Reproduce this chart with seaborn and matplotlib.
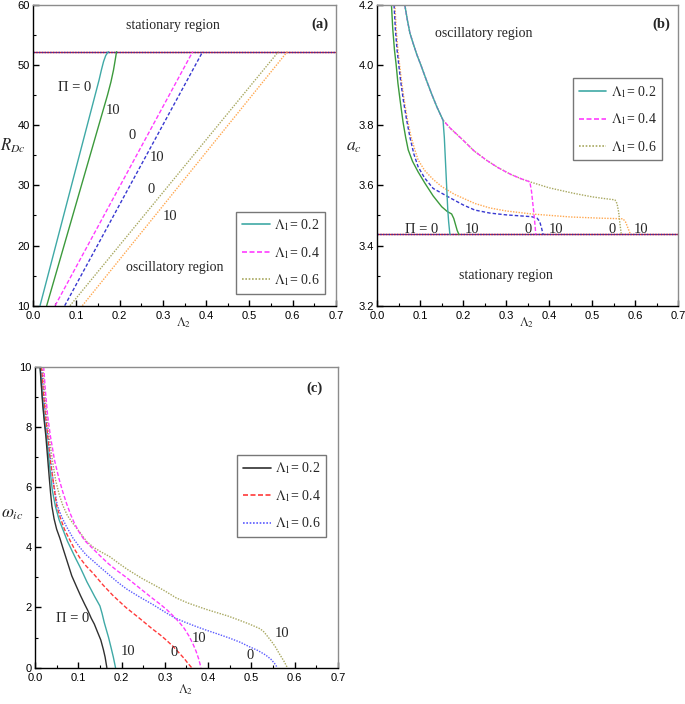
import numpy as np
import pandas as pd
import matplotlib
matplotlib.use("Agg")
import matplotlib.pyplot as plt
import seaborn as sns
from matplotlib.lines import Line2D
from matplotlib.ticker import MultipleLocator, FormatStrFormatter

# ---------------- data ----------------
# Panel (a): R_Dc vs Lambda_2
a_l02_p0_x = [0.0162, 0.1525, 0.158, 0.163, 0.168, 0.174]
a_l02_p0_y = [10.0, 47.5, 49.2, 50.6, 51.6, 52.24]
a_l02_p10_x = [0.0316, 0.172, 0.180, 0.186, 0.190, 0.193]
a_l02_p10_y = [10.0, 45.0, 47.2, 49.2, 50.9, 52.24]
a_l04_p0_x = [0.051, 0.369]
a_l04_p0_y = [10.0, 52.24]
a_l04_p10_x = [0.0732, 0.392]
a_l04_p10_y = [10.0, 52.24]
a_l06_p0_x = [0.0855, 0.567]
a_l06_p0_y = [10.0, 52.24]
a_l06_p10_x = [0.114, 0.5875]
a_l06_p10_y = [10.0, 52.24]
a_boundary = 52.24

# Panel (b): a_c vs Lambda_2
b_upper_x = [0.064, 0.070, 0.076, 0.084, 0.092, 0.1015, 0.113, 0.126, 0.139, 0.153]
b_upper_y = [4.2, 4.15, 4.106, 4.07, 4.035, 4.0, 3.955, 3.906, 3.86, 3.817]
b_l02_p0_x = b_upper_x + [0.156, 0.158, 0.160, 0.162, 0.164, 0.166, 0.169]
b_l02_p0_y = b_upper_y + [3.76, 3.70, 3.64, 3.58, 3.52, 3.48, 3.437]
b_l04_p0_x = b_upper_x + [0.170, 0.185, 0.200, 0.225, 0.254, 0.280, 0.310, 0.335, 0.355, 0.359, 0.362, 0.365, 0.367, 0.369]
b_l04_p0_y = b_upper_y + [3.79, 3.77, 3.75, 3.715, 3.684, 3.66, 3.637, 3.622, 3.612, 3.58, 3.54, 3.50, 3.47, 3.437]
b_l06_p0_x = b_upper_x + [0.170, 0.185, 0.200, 0.225, 0.254, 0.280, 0.310, 0.335, 0.355, 0.400, 0.456, 0.500, 0.530, 0.553, 0.558, 0.562, 0.565, 0.568]
b_l06_p0_y = b_upper_y + [3.79, 3.77, 3.75, 3.715, 3.684, 3.66, 3.637, 3.622, 3.612, 3.592, 3.574, 3.562, 3.556, 3.552, 3.54, 3.51, 3.47, 3.437]
b_l02_p10_x = [0.033, 0.036, 0.040, 0.044, 0.048, 0.053, 0.060, 0.066, 0.072, 0.082, 0.095, 0.111, 0.130, 0.150, 0.163, 0.173, 0.178, 0.182, 0.186, 0.190]
b_l02_p10_y = [4.2, 4.12, 4.05, 4.0, 3.94, 3.884, 3.81, 3.76, 3.718, 3.68, 3.645, 3.607, 3.565, 3.529, 3.513, 3.505, 3.49, 3.47, 3.45, 3.437]
b_l04_p10_x = [0.039, 0.042, 0.046, 0.050, 0.055, 0.061, 0.068, 0.076, 0.085, 0.095, 0.110, 0.130, 0.165, 0.200, 0.227, 0.262, 0.300, 0.359, 0.372, 0.378, 0.382, 0.386]
b_l04_p10_y = [4.2, 4.12, 4.05, 4.0, 3.94, 3.88, 3.82, 3.76, 3.705, 3.662, 3.625, 3.59, 3.562, 3.535, 3.518, 3.508, 3.502, 3.496, 3.491, 3.48, 3.46, 3.437]
b_l06_p10_x = [0.041, 0.044, 0.048, 0.052, 0.057, 0.063, 0.070, 0.078, 0.087, 0.095, 0.110, 0.130, 0.150, 0.180, 0.227, 0.262, 0.300, 0.359, 0.450, 0.520, 0.572, 0.578, 0.583, 0.587, 0.590]
b_l06_p10_y = [4.2, 4.12, 4.05, 4.0, 3.94, 3.88, 3.82, 3.765, 3.72, 3.685, 3.65, 3.62, 3.596, 3.57, 3.540, 3.525, 3.515, 3.505, 3.495, 3.491, 3.489, 3.478, 3.46, 3.445, 3.437]
b_boundary = 3.437

# Panel (c): omega_ic vs Lambda_2
c_l02_p0_x = [0.0115, 0.015, 0.018, 0.022, 0.025, 0.029, 0.033, 0.036, 0.039, 0.044, 0.050, 0.0575, 0.065, 0.075, 0.085, 0.096, 0.105, 0.115, 0.122, 0.130, 0.137, 0.144, 0.152, 0.158, 0.162, 0.166]
c_l02_p0_y = [10.0, 9.3, 8.7, 8.1, 7.7, 7.0, 6.3, 5.8, 5.37, 4.95, 4.6, 4.3, 3.95, 3.5, 3.05, 2.69, 2.4, 2.1, 1.9, 1.64, 1.45, 1.2, 0.92, 0.6, 0.35, 0.0]
c_l02_p10_x = [0.012, 0.017, 0.022, 0.027, 0.033, 0.040, 0.047, 0.056, 0.065, 0.075, 0.085, 0.095, 0.1035, 0.112, 0.120, 0.130, 0.138, 0.145, 0.150, 0.155, 0.160, 0.165, 0.170, 0.176, 0.181, 0.186]
c_l02_p10_y = [10.0, 9.0, 8.2, 7.6, 6.8, 5.9, 5.37, 4.9, 4.57, 4.2, 3.9, 3.6, 3.36, 3.1, 2.85, 2.58, 2.36, 2.18, 2.05, 1.8, 1.5, 1.25, 1.0, 0.65, 0.35, 0.0]
c_l04_p0_x = [0.015, 0.019, 0.024, 0.030, 0.036, 0.043, 0.050, 0.058, 0.068, 0.0805, 0.092, 0.1035, 0.118, 0.134, 0.157, 0.180, 0.210, 0.2415, 0.270, 0.290, 0.303, 0.318, 0.3336, 0.345, 0.353, 0.362]
c_l04_p0_y = [10.0, 9.2, 8.4, 7.6, 6.8, 6.1, 5.37, 5.0, 4.6, 4.24, 3.92, 3.65, 3.38, 3.14, 2.75, 2.4, 2.0, 1.64, 1.3, 1.08, 0.92, 0.72, 0.48, 0.3, 0.15, 0.0]
c_l04_p10_x = [0.020, 0.024, 0.029, 0.0355, 0.045, 0.055, 0.064, 0.073, 0.082, 0.091, 0.100, 0.115, 0.134, 0.150, 0.170, 0.190, 0.211, 0.230, 0.250, 0.270, 0.290, 0.305, 0.322, 0.335, 0.345, 0.355, 0.364, 0.372, 0.378, 0.3835]
c_l04_p10_y = [10.0, 9.2, 8.4, 7.7, 6.9, 6.3, 5.85, 5.45, 5.1, 4.8, 4.55, 4.22, 3.95, 3.72, 3.45, 3.22, 3.0, 2.78, 2.55, 2.32, 2.1, 1.92, 1.68, 1.48, 1.3, 1.07, 0.82, 0.55, 0.3, 0.0]
c_l06_p0_x = [0.015, 0.019, 0.024, 0.030, 0.036, 0.043, 0.052, 0.062, 0.073, 0.088, 0.1035, 0.118, 0.134, 0.152, 0.170, 0.190, 0.211, 0.2415, 0.272, 0.300, 0.322, 0.345, 0.370, 0.395, 0.420, 0.450, 0.475, 0.4946, 0.515, 0.533, 0.545, 0.553, 0.560]
c_l06_p0_y = [10.0, 9.2, 8.4, 7.65, 6.9, 6.1, 5.37, 5.0, 4.68, 4.3, 4.0, 3.75, 3.55, 3.32, 3.1, 2.85, 2.62, 2.35, 2.1, 1.85, 1.66, 1.52, 1.38, 1.25, 1.13, 0.98, 0.84, 0.70, 0.57, 0.42, 0.28, 0.15, 0.0]
c_l06_p10_x = [0.018, 0.022, 0.027, 0.0325, 0.040, 0.048, 0.056, 0.064, 0.075, 0.090, 0.1035, 0.119, 0.135, 0.152, 0.1725, 0.195, 0.215, 0.249, 0.275, 0.300, 0.326, 0.353, 0.375, 0.395, 0.420, 0.445, 0.4716, 0.495, 0.5176, 0.527, 0.535, 0.545, 0.555, 0.565, 0.575, 0.583]
c_l06_p10_y = [10.0, 9.2, 8.4, 7.7, 6.9, 6.2, 5.75, 5.4, 5.05, 4.75, 4.5, 4.2, 4.0, 3.85, 3.69, 3.45, 3.25, 2.95, 2.75, 2.55, 2.32, 2.15, 2.04, 1.94, 1.83, 1.72, 1.58, 1.45, 1.31, 1.22, 1.08, 0.9, 0.7, 0.45, 0.22, 0.0]

legend_labels = [r'$\Lambda_1$= 0.2', r'$\Lambda_1$= 0.4', r'$\Lambda_1$= 0.6']
x_ticks = [0.0, 0.1, 0.2, 0.3, 0.4, 0.5, 0.6, 0.7]

# ---------------- style ----------------
sns.set_style("ticks")
plt.rcParams['font.family'] = ['Liberation Sans', 'DejaVu Sans']
plt.rcParams['mathtext.fontset'] = 'stix'

SERIF = ['Liberation Serif', 'DejaVu Serif']

TEAL = '#3fa9a6'
GREEN = '#3c9a3c'
MAGENTA = '#ff3cff'
BLUE = '#3838d0'
OLIVE = '#a8a860'
ORANGE = '#ffa850'
BLACK = '#303030'
RED = '#ff3a3a'
BLUE2 = '#5a5aff'

DASH = (0, (3, 1.5))
DASH2 = (0, (2.5, 1.5))
DOT = (0, (1, 1))

fig = plt.figure(figsize=(6.85, 7.04), dpi=100)
axA = fig.add_axes([0.0482, 0.5658, 0.4423, 0.4271])
axB = fig.add_axes([0.5508, 0.5658, 0.4390, 0.4271])
axC = fig.add_axes([0.0511, 0.0516, 0.4423, 0.4275])


def draw(ax, x, y, color, ls, lw=1.0):
    df = pd.DataFrame({'x': x, 'y': y})
    sns.lineplot(data=df, x='x', y='y', ax=ax, color=color, linestyle=ls,
                 linewidth=lw, sort=False, estimator=None, legend=False)


def style_axes(ax, ylim, ymaj, ymin, yfmt):
    ax.set_xlim(0, 0.7)
    ax.set_ylim(*ylim)
    ax.set_xticks(x_ticks)
    ax.xaxis.set_major_formatter(FormatStrFormatter('%.1f'))
    ax.xaxis.set_minor_locator(MultipleLocator(0.05))
    ax.yaxis.set_major_locator(MultipleLocator(ymaj))
    ax.yaxis.set_minor_locator(MultipleLocator(ymin))
    ax.yaxis.set_major_formatter(FormatStrFormatter(yfmt))
    ax.tick_params(which='both', direction='in', top=False, right=False,
                   labelsize=8, colors='black')
    ax.tick_params(which='major', length=4, width=1)
    ax.tick_params(which='minor', length=2, width=0.8)
    ax.tick_params(axis='x', pad=4)
    ax.tick_params(axis='y', pad=2.5)
    ax.set_xlabel('')
    ax.set_ylabel('')
    for s in ['left', 'bottom']:
        ax.spines[s].set_color('black')
        ax.spines[s].set_linewidth(1.0)
    for s in ['top', 'right']:
        ax.spines[s].set_color('#8c8c8c')
        ax.spines[s].set_linewidth(1.0)
        ax.spines[s].set_visible(True)


def add_legend(ax, handles_style, anchor):
    handles = [Line2D([0], [0], color=c, linestyle=l, lw=1.2) for c, l in handles_style]
    leg = ax.legend(handles, legend_labels, loc='upper left', bbox_to_anchor=anchor,
                    frameon=True, fancybox=False, edgecolor='#555555',
                    prop={'family': SERIF, 'size': 10}, handlelength=2.0,
                    handletextpad=0.3, labelspacing=0.85, borderpad=0.4,
                    borderaxespad=0.0)
    leg.get_frame().set_linewidth(1.0)
    return leg


def label(ax, x, y, s, size=10.5, **kw):
    ax.text(x, y, s, fontsize=size, family=SERIF, ha='center', va='center', **kw)


# ---------------- panel (a) ----------------
axA.axhline(a_boundary, color='#cc2030', lw=1.0)
axA.axhline(a_boundary, color='#3030b0', lw=1.0, linestyle=DOT)
draw(axA, a_l02_p0_x, a_l02_p0_y, TEAL, '-')
draw(axA, a_l02_p10_x, a_l02_p10_y, GREEN, '-')
draw(axA, a_l04_p0_x, a_l04_p0_y, MAGENTA, DASH)
draw(axA, a_l04_p10_x, a_l04_p10_y, BLUE, DASH2)
draw(axA, a_l06_p0_x, a_l06_p0_y, OLIVE, DOT)
draw(axA, a_l06_p10_x, a_l06_p10_y, ORANGE, DOT)
style_axes(axA, (10, 60), 10, 5, '%d')
add_legend(axA, [(TEAL, '-'), (MAGENTA, DASH), (OLIVE, DOT)], (0.671, 0.313))
label(axA, 0.324, 56.6, 'stationary region', 10)
label(axA, 0.328, 16.4, 'oscillatory region', 10)
label(axA, 0.662, 56.8, '(a)', 10.5, fontweight='bold')
label(axA, 0.097, 46.2, 'Π = 0')
label(axA, 0.186, 42.4, '10')
label(axA, 0.228, 38.3, '0')
label(axA, 0.286, 34.6, '10')
label(axA, 0.272, 29.3, '0')
label(axA, 0.316, 24.9, '10')

# ---------------- panel (b) ----------------
axB.axhline(b_boundary, color='#cc2030', lw=1.0)
axB.axhline(b_boundary, color='#3030b0', lw=1.0, linestyle=DOT)
draw(axB, b_l06_p10_x, b_l06_p10_y, ORANGE, DOT)
draw(axB, b_l04_p10_x, b_l04_p10_y, BLUE, DASH2)
draw(axB, b_l02_p10_x, b_l02_p10_y, GREEN, '-')
draw(axB, b_l06_p0_x, b_l06_p0_y, OLIVE, DOT)
draw(axB, b_l04_p0_x, b_l04_p0_y, MAGENTA, DASH)
draw(axB, b_l02_p0_x, b_l02_p0_y, TEAL, '-')
style_axes(axB, (3.2, 4.2), 0.2, 0.1, '%.1f')
add_legend(axB, [(TEAL, '-'), (MAGENTA, DASH), (OLIVE, DOT)], (0.651, 0.756))
label(axB, 0.247, 4.106, 'oscillatory region', 10)
label(axB, 0.300, 3.302, 'stationary region', 10)
label(axB, 0.661, 4.137, '(b)', 10.5, fontweight='bold')
label(axB, 0.103, 3.455, 'Π = 0')
label(axB, 0.220, 3.455, '10')
label(axB, 0.351, 3.455, '0')
label(axB, 0.417, 3.455, '10')
label(axB, 0.547, 3.455, '0')
label(axB, 0.615, 3.455, '10')

# ---------------- panel (c) ----------------
draw(axC, c_l06_p10_x, c_l06_p10_y, OLIVE, DOT)
draw(axC, c_l06_p0_x, c_l06_p0_y, BLUE2, DOT)
draw(axC, c_l04_p10_x, c_l04_p10_y, MAGENTA, DASH)
draw(axC, c_l04_p0_x, c_l04_p0_y, RED, DASH)
draw(axC, c_l02_p10_x, c_l02_p10_y, TEAL, '-')
draw(axC, c_l02_p0_x, c_l02_p0_y, BLACK, '-')
style_axes(axC, (0, 10), 2, 1, '%d')
add_legend(axC, [(BLACK, '-'), (RED, DASH), (BLUE2, DOT)], (0.668, 0.707))
label(axC, 0.645, 9.3, '(c)', 10.5, fontweight='bold')
label(axC, 0.088, 1.64, 'Π = 0')
label(axC, 0.215, 0.53, '10')
label(axC, 0.322, 0.50, '0')
label(axC, 0.380, 0.98, '10')
label(axC, 0.498, 0.42, '0')
label(axC, 0.571, 1.14, '10')

# ---------------- axis labels ----------------
fig.text(13 / 685, 1 - 146 / 704, r'$R_{Dc}$', fontsize=12, ha='center', va='center')
fig.text(354 / 685, 1 - 147 / 704, r'$a_c$', fontsize=12.5, ha='center', va='center')
fig.text(12 / 685, 1 - 515 / 704, r'$\omega_{ic}$', fontsize=12.5, ha='center', va='center')
fig.text(184 / 685, 1 - 323 / 704, r'$\Lambda_2$', fontsize=9, ha='center', va='center')
fig.text(527 / 685, 1 - 323 / 704, r'$\Lambda_2$', fontsize=9, ha='center', va='center')
fig.text(186 / 685, 1 - 690 / 704, r'$\Lambda_2$', fontsize=9, ha='center', va='center')

fig.savefig('out.png', dpi=100)
